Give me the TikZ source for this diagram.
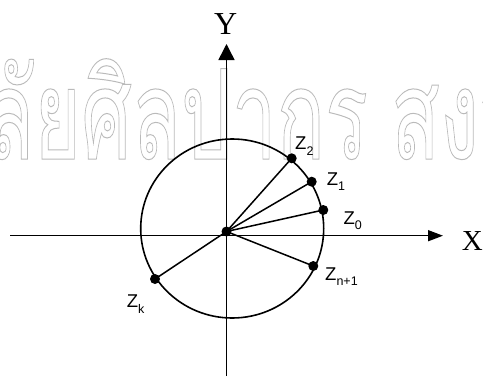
\documentclass[tikz,border=0pt]{standalone}
\usepackage{fontspec}
\setmainfont{Liberation Serif}
\newfontfamily\zfont{Liberation Sans}
\newfontfamily\thaifont[Script=Thai]{Loma}
\usetikzlibrary{arrows.meta}
\newcommand\zlab[1]{{\zfont\fontsize{18.5}{18.5}\selectfont Z\raisebox{-5.5pt}{\fontsize{12.5}{12.5}\selectfont #1}}}
\newcommand\outlined[1]{\special{pdf:literal direct 1 Tr 1 w}#1\special{pdf:literal direct 0 Tr}}
\tikzset{
  axisline/.style={line width=1.5pt},
  curveline/.style={line width=1.6pt},
  spoke/.style={line width=1.5pt},
  ptdot/.style={circle,fill=black,inner sep=0pt,minimum size=10pt},
  zlabel/.style={anchor=base west,inner sep=0pt},
  axlabel/.style={anchor=center,inner sep=0pt},
  wmark/.style={anchor=base west,inner sep=0pt,text=black!27}
}
\begin{document}
\begin{tikzpicture}[x=1pt,y=-1pt]
\useasboundingbox (0,0) rectangle (483,376);
\fill[white] (0,0) rectangle (483,376);
% watermark
\begin{scope}
\clip (0,0) rectangle (483,376);
\node[wmark] (wm) at (-15,159) {\scalebox{0.64}[1]{\thaifont\fontsize{125}{125}\selectfont\outlined{ลัยศิลปากร\hspace{36pt}สงว}}};
\end{scope}
% axes
\coordinate (xl) at (10,235.7);
\coordinate (xr) at (443,235.7);
\coordinate (yb) at (226.5,376);
\coordinate (yt) at (226.5,44);
\draw[axisline,-{Triangle[length=15pt,width=11pt]}] (xl) -- (xr);
\draw[axisline,-{Triangle[length=16pt,width=16pt]}] (yb) -- (yt);
\node[axlabel,font=\fontsize{29}{29}\selectfont] (xlab) at (472.3,240.8) {X};
\node[axlabel,font=\fontsize{32}{32}\selectfont] (ylab) at (225.8,24.2) {Y};
% circle
\draw[curveline] (232.2,228.5) ellipse [x radius=91.5, y radius=89.5];
% points
\node[ptdot] (o) at (226.5,231.5) {};
\node[ptdot] (z2) at (291.7,158.3) {};
\node[ptdot] (z1) at (311.7,181.7) {};
\node[ptdot] (z0) at (323.3,210) {};
\node[ptdot] (zn) at (313.3,266) {};
\node[ptdot] (zk) at (155,279) {};
\foreach \p in {z2,z1,z0,zn,zk} \draw[spoke] (o.center) -- (\p.center);
% labels
\node[zlabel] (lz2) at (295,149.5) {\zlab{2}};
\node[zlabel] (lz1) at (326.7,185) {\zlab{1}};
\node[zlabel] (lz0) at (343.3,224) {\zlab{0}};
\node[zlabel] (lzn) at (325,280) {\zlab{n+1}};
\node[zlabel] (lzk) at (126.7,307.7) {\zlab{k}};
\end{tikzpicture}
\end{document}
